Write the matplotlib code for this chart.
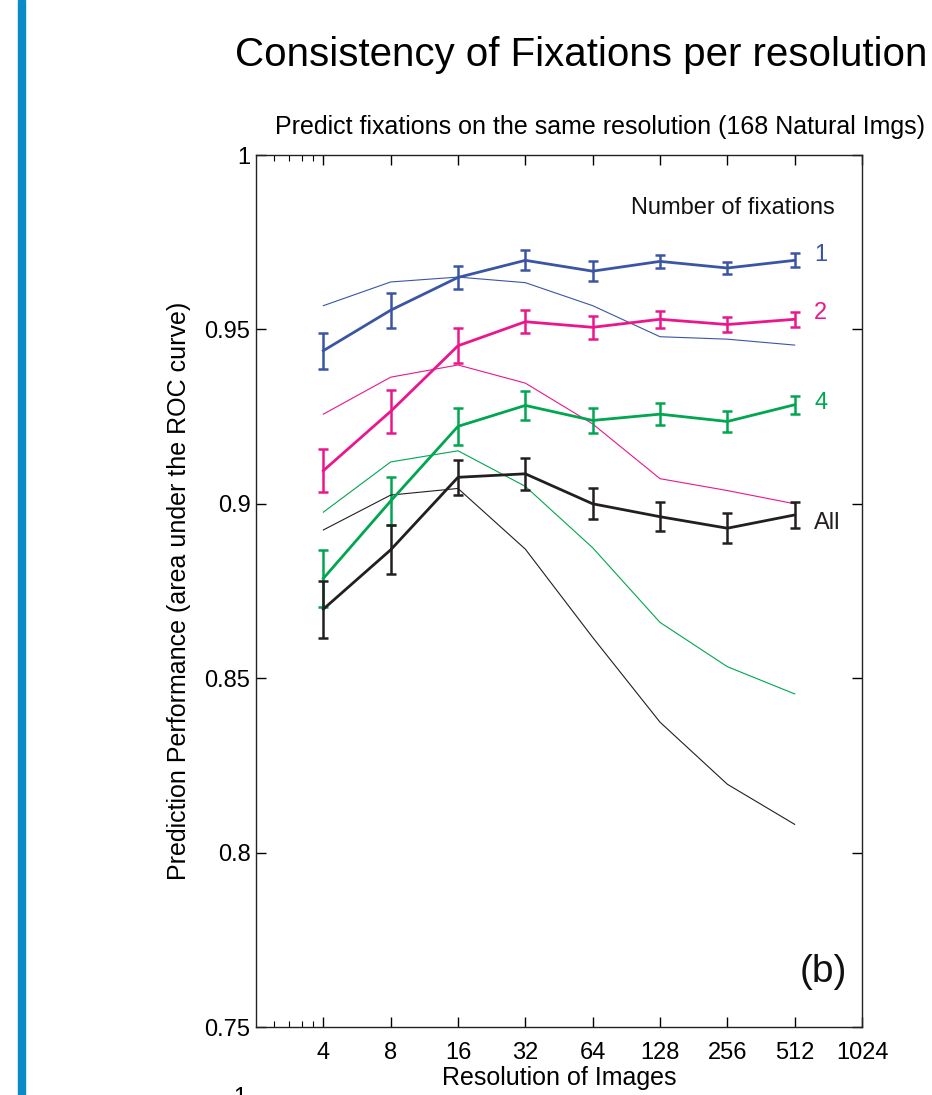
import matplotlib
matplotlib.use("Agg")
import matplotlib.pyplot as plt
from matplotlib.patches import Rectangle
from matplotlib import font_manager
import matplotlib.transforms as mtransforms

fams = {f.name for f in font_manager.fontManager.ttflist}
main_font = "Liberation Sans" if "Liberation Sans" in fams else "DejaVu Sans"
plt.rcParams['font.family'] = [main_font, 'DejaVu Sans']

# ---- data ----
resolutions = [4, 8, 16, 32, 64, 128, 256, 512]
xtick_values = [4, 8, 16, 32, 64, 128, 256, 512, 1024]
ytick_values = [0.75, 0.8, 0.85, 0.9, 0.95, 1.0]
ytick_labels = ["0.75", "0.8", "0.85", "0.9", "0.95", "1"]

same_1 = [0.9439, 0.9555, 0.9649, 0.9698, 0.9667, 0.9695, 0.9676, 0.9698]
err_1 = [0.0052, 0.0050, 0.0034, 0.0029, 0.0028, 0.0018, 0.0016, 0.0020]
base_1 = [0.9568, 0.9636, 0.9650, 0.9634, 0.9568, 0.9479, 0.9472, 0.9455]

same_2 = [0.9095, 0.9265, 0.9453, 0.9522, 0.9506, 0.9529, 0.9514, 0.9529]
err_2 = [0.0062, 0.0062, 0.0050, 0.0033, 0.0033, 0.0025, 0.0021, 0.0021]
base_2 = [0.9257, 0.9363, 0.9398, 0.9346, 0.9229, 0.9072, 0.9038, 0.9000]

same_4 = [0.8786, 0.9008, 0.9222, 0.9282, 0.9239, 0.9257, 0.9236, 0.9284]
err_4 = [0.0081, 0.0070, 0.0052, 0.0042, 0.0037, 0.0031, 0.0030, 0.0026]
base_4 = [0.8976, 0.9120, 0.9152, 0.9050, 0.8874, 0.8660, 0.8533, 0.8455]

same_all = [0.8698, 0.8868, 0.9076, 0.9086, 0.9000, 0.8963, 0.8930, 0.8968]
err_all = [0.0082, 0.0070, 0.0051, 0.0046, 0.0045, 0.0041, 0.0043, 0.0038]
base_all = [0.8925, 0.9025, 0.9044, 0.8870, 0.8617, 0.8374, 0.8196, 0.8081]

series_labels = ["1", "2", "4", "All"]
label_values = [0.9713, 0.9547, 0.9290, 0.8945]
colors = ["#3b55a5", "#ec168c", "#00a650", "#231f20"]

# ---- figure ----
fig = plt.figure(figsize=(9.32, 10.95), dpi=100)
fig.patches.append(Rectangle((18 / 932, 0), 7 / 932, 1, transform=fig.transFigure,
                             color="#0a8ac6", zorder=0))

ax = fig.add_axes([256 / 932, 1 - 1027 / 1095, (862 - 256) / 932, (1027 - 155) / 1095])
ax.set_xscale("log", base=2)
ax.set_xlim(2, 1024)
ax.set_ylim(0.75, 1.0)

means = [same_1, same_2, same_4, same_all]
errs = [err_1, err_2, err_4, err_all]
bases = [base_1, base_2, base_4, base_all]

for m, e, b, c in zip(means, errs, bases, colors):
    ax.plot(resolutions, b, color=c, lw=0.8)
    ax.errorbar(resolutions, m, yerr=e, color=c, lw=2.0, elinewidth=1.8,
                capsize=3.5, capthick=1.8)

offset = mtransforms.offset_copy(ax.transData, fig=fig, x=14, y=0, units="points")
for lab, ly, c in zip(series_labels, label_values, colors):
    ax.text(resolutions[-1], ly, lab, color=c, fontsize=17, va="center", ha="left",
            transform=offset)

ax.text(0.955, 0.939, "Number of fixations", transform=ax.transAxes, ha="right",
        va="center", fontsize=17, color="#111111")
ax.text(0.975, 0.063, "(b)", transform=ax.transAxes, ha="right", va="center",
        fontsize=28, color="#111111")

ax.set_xticks(xtick_values)
ax.set_xticklabels([str(v) for v in xtick_values])
ax.set_xticks([2.4, 2.8, 3.2, 3.6], minor=True)
ax.xaxis.set_minor_formatter(matplotlib.ticker.NullFormatter())
ax.set_yticks(ytick_values)
ax.set_yticklabels(ytick_labels)
ax.tick_params(axis="both", which="major", direction="in", length=7, width=1,
               top=True, right=True, labelsize=17, pad=4)
ax.tick_params(axis="x", which="major", labelsize=17, pad=11)
ax.tick_params(axis="x", which="minor", direction="in", length=4, width=0.8, top=True)
ax.tick_params(axis="y", which="minor", left=False, right=False)
for s in ax.spines.values():
    s.set_linewidth(1.0)
    s.set_color("#222222")

ax.set_xlabel("Resolution of Images", fontsize=18, labelpad=1)
ax.set_ylabel("Prediction Performance (area under the ROC curve)", fontsize=18,
              labelpad=10)

fig.text(600 / 932, 1 - 127 / 1095,
         "Predict fixations on the same resolution (168 Natural Imgs)",
         ha="center", va="center", fontsize=18)
fig.text(581 / 932, 1 - 55 / 1095, "Consistency of Fixations per resolution",
         ha="center", va="center", fontsize=29)
fig.text(240 / 932, 1 - 1098 / 1095, "1", ha="center", va="center", fontsize=17)

fig.savefig("out.png", dpi=100)
